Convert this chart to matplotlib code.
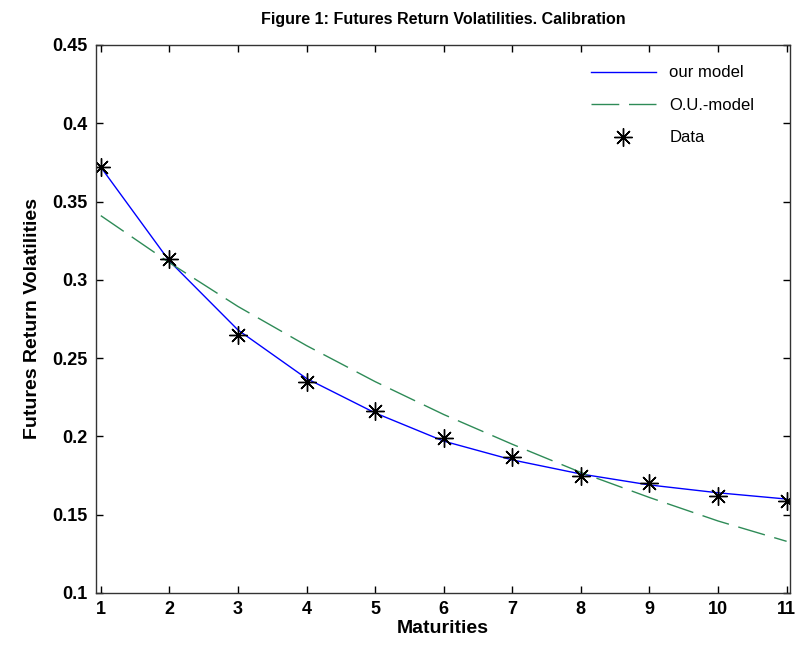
import numpy as np
import matplotlib
matplotlib.use('Agg')
import matplotlib.pyplot as plt

maturities = [1, 2, 3, 4, 5, 6, 7, 8, 9, 10, 11]
data_vol = [0.372, 0.313, 0.265, 0.235, 0.216, 0.199, 0.187, 0.175, 0.170, 0.162, 0.159]
our_model = [0.372, 0.312, 0.268, 0.237, 0.215, 0.197, 0.185, 0.176, 0.169, 0.164, 0.160]
ou_model = [0.341, 0.311, 0.283, 0.258, 0.235, 0.214, 0.195, 0.177, 0.161, 0.146, 0.133]
yticks = [0.1, 0.15, 0.2, 0.25, 0.3, 0.35, 0.4, 0.45]
ytick_labels = ['0.1', '0.15', '0.2', '0.25', '0.3', '0.35', '0.4', '0.45']

fam = ['Liberation Sans Narrow', 'Liberation Sans', 'DejaVu Sans']
plt.rcParams['font.family'] = fam

fig = plt.figure(figsize=(7.96, 6.51), dpi=100)
ax = fig.add_axes([0.1206, 0.0891, 0.8719, 0.8418])

ax.plot(maturities, our_model, color='#0000ff', lw=1.0, label='our model')
ax.plot(maturities, ou_model, color='#2e8b57', lw=1.0, dashes=(20, 7), label='O.U.-model')
ax.plot(maturities, data_vol, ls='none', marker=(8, 2, 0), ms=13, mew=1.0,
        color='black', label='Data')

ax.set_xlim(0.93, 11.05)
ax.set_ylim(0.1, 0.45)
ax.set_xticks(maturities)
ax.set_yticks(yticks)
ax.set_yticklabels(ytick_labels)
ax.tick_params(direction='in', top=True, right=True, length=5, width=1,
               labelsize=13, pad=6)
for lab in ax.get_xticklabels() + ax.get_yticklabels():
    lab.set_fontweight('bold')
for s in ax.spines.values():
    s.set_linewidth(1.0)
    s.set_color('#333333')

ax.set_xlabel('Maturities', fontsize=14, fontweight='bold', labelpad=1)
ax.set_ylabel('Futures Return Volatilities', fontsize=14, fontweight='bold', labelpad=8)
ax.set_title('Figure 1: Futures Return Volatilities. Calibration', fontsize=11.5,
             fontweight='bold', pad=15)

leg = ax.legend(loc='upper right', frameon=False, fontsize=12, handlelength=3.9,
                bbox_to_anchor=(0.97, 0.99), labelspacing=1.05)

plt.savefig('out.png', dpi=100)
